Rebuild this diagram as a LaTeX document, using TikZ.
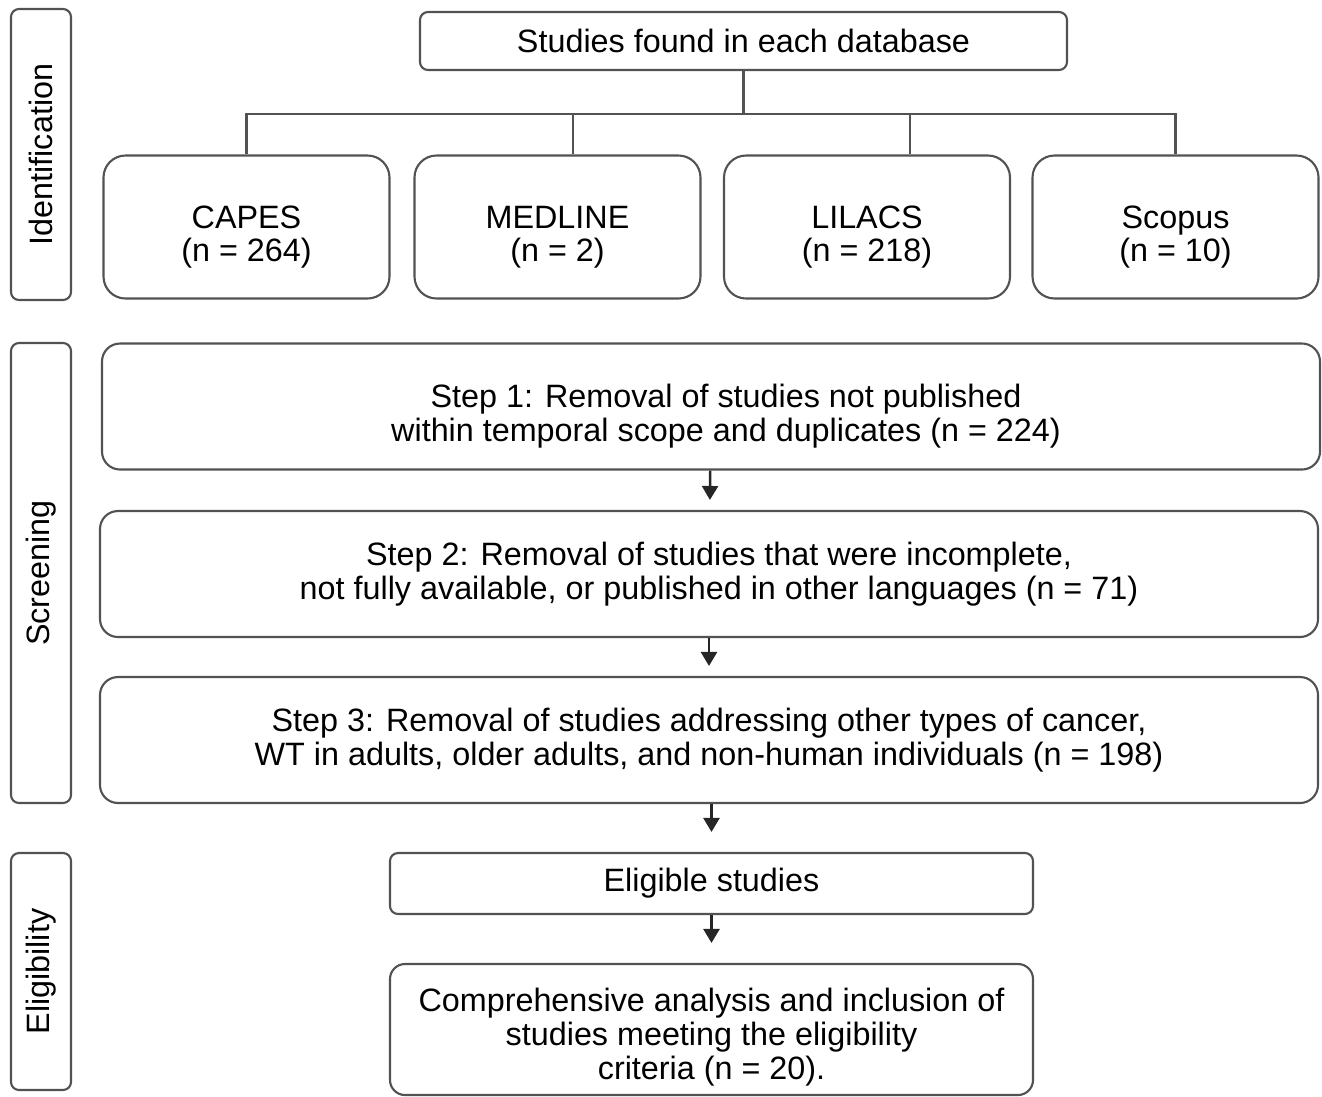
\documentclass[tikz,border=0pt]{standalone}
\usepackage{fontspec}
\setmainfont{Liberation Sans}
\usetikzlibrary{arrows.meta,positioning}
\newcommand{\toplift}{\rule{0pt}{12.2pt}}
\tikzset{linegray/.style={draw=black!68,line width=0.6pt},
    stagebox/.style={linegray,rectangle,rounded corners=0.08cm,rotate=90,minimum height=0.60cm,inner sep=0},
    plainbox/.style={linegray,rectangle,rounded corners=0.08cm,align=center,inner sep=0},
    dbbox/.style={linegray,rectangle,rounded corners=0.22cm,align=center,inner sep=0,minimum width=2.86cm,minimum height=1.43cm},
    stepbox/.style={linegray,rectangle,rounded corners=0.18cm,align=center,inner sep=0,minimum width=12.18cm,minimum height=1.26cm},
    flowarrow/.style={draw=black!85,line width=0.7pt,-{Triangle[width=1.6mm,length=1.4mm]}}
}

\begin{document}
\begin{tikzpicture}[font=\fontsize{9.2}{9.6}\selectfont]
\useasboundingbox (0,0) rectangle (13.22,-10.96);

% stage labels
\node (ident) at (0.41,-1.545) [stagebox,minimum width=2.91cm] {Identification};
\node (screen) at (0.41,-5.73) [stagebox,minimum width=4.60cm] {Screening};
\node (elig) at (0.41,-9.715) [stagebox,minimum width=2.37cm] {Eligibility};

% identification
\node (found) at (7.435,-0.41) [plainbox,minimum width=6.47cm,minimum height=0.58cm] {Studies found in each database};

\node (capes) at (2.465,-2.27) [dbbox] {\toplift CAPES\\(n = 264)};
\node (medline) at (5.575,-2.27) [dbbox] {\toplift MEDLINE\\(n = 2)};
\node (lilacs) at (8.67,-2.27) [dbbox] {\toplift LILACS\\(n = 218)};
\node (scopus) at (11.755,-2.27) [dbbox] {\toplift Scopus\\(n = 10)};

\draw [linegray] (found.south) -- ++(0,-0.43) coordinate (split);
\draw [linegray] (capes.north) |- (split) -| (scopus.north);
\draw [linegray] ([xshift=0.155cm]medline.north) |- (split);
\draw [linegray] ([xshift=0.43cm]lilacs.north) |- (split);

% screening
\node (step1) at (7.11,-4.065) [stepbox] {\toplift\hspace*{0.3cm}Step 1: Removal of studies not published\\\hspace*{0.3cm}within temporal scope and duplicates (n = 224)};
\node (step2) at (7.09,-5.74) [stepbox] {\hspace*{0.2cm}Step 2: Removal of studies that were incomplete,\\\hspace*{0.2cm}not fully available, or published in other languages (n = 71)};
\node (step3) at (7.09,-7.40) [stepbox] {Step 3: Removal of studies addressing other types of cancer,\\WT in adults, older adults, and non-human individuals (n = 198)};

% eligibility
\node (eligible) at (7.115,-8.835) [plainbox,minimum width=6.43cm,minimum height=0.61cm] {Eligible studies};
\node (included) at (7.115,-10.295) [plainbox,rounded corners=0.15cm,minimum width=6.43cm,minimum height=1.31cm] {\rule{0pt}{11pt}Comprehensive analysis and inclusion of\\studies meeting the eligibility\\criteria (n = 20).};

\draw [flowarrow,shorten >=1mm] (step1) -- (step2);
\draw [flowarrow,shorten >=1mm] (step2) -- (step3);
\draw [flowarrow,shorten >=2mm] (step3.south -| eligible) -- (eligible);
\draw [flowarrow,shorten >=2mm] (eligible) -- (included);

\end{tikzpicture}
\end{document}
